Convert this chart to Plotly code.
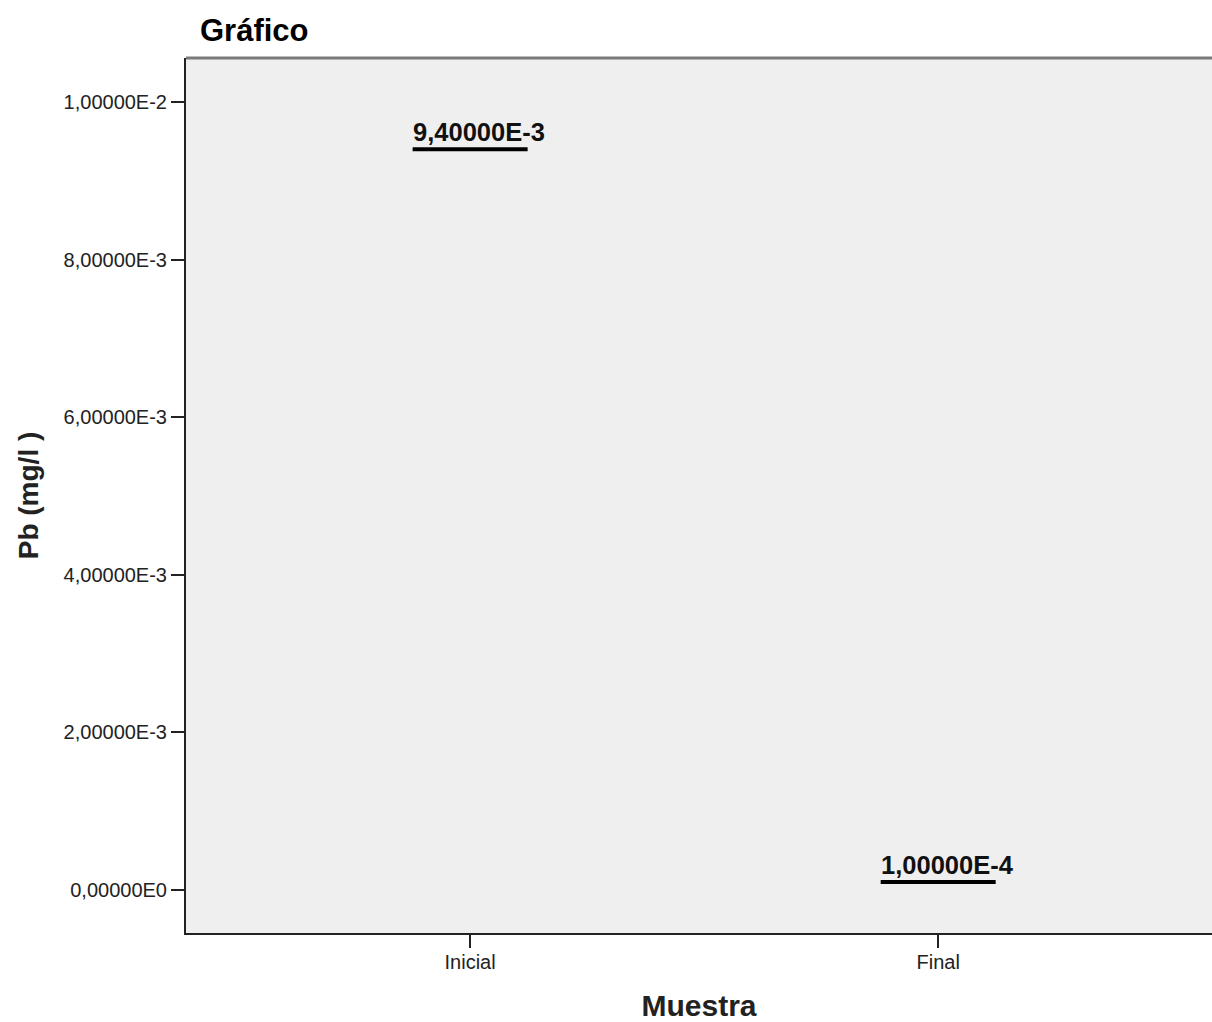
import plotly.graph_objects as go

# Pb concentration per sample (mg/l)
categories = ["Inicial", "Final"]
pb_values = [9.4e-3, 1.0e-4]
value_labels = ["9,40000E-3", "1,00000E-4"]

# y axis ticks
y_tickvals = [0.0, 0.002, 0.004, 0.006, 0.008, 0.010]
y_ticktext = ["0,00000E0", "2,00000E-3", "4,00000E-3", "6,00000E-3", "8,00000E-3", "1,00000E-2"]

W, H = 1212, 1022
ML, MT, MB, MR = 186, 58, 89, 0
SEG = 116  # drawn length of the value bar in px

x_pos = list(range(len(categories)))

fig = go.Figure()
fig.add_trace(go.Scatter(
    x=x_pos, y=pb_values, mode="markers",
    # line-ew symbols are drawn 1.4x the marker size
    marker=dict(symbol="line-ew", size=(SEG - 1) / 1.4, color="black",
                line=dict(width=4, color="black")),
    hoverinfo="skip", showlegend=False,
))

for xi, v, lab in zip(x_pos, pb_values, value_labels):
    fig.add_annotation(
        x=xi, y=v, xref="x", yref="y", text=f"<b>{lab}</b>",
        showarrow=False, xanchor="left", yanchor="bottom",
        xshift=-SEG / 2 - 1, yshift=1,
        font=dict(family="Liberation Sans, Arial, sans-serif", size=25.5, color="#111"),
    )

# grey frame along the top of the plot area
fig.add_shape(type="line", xref="paper", yref="paper", x0=0, x1=1, y0=1, y1=1,
              line=dict(color="#7a7a7a", width=3))

fig.update_layout(
    width=W, height=H,
    margin=dict(l=ML, r=MR, t=MT, b=MB, pad=0),
    paper_bgcolor="white", plot_bgcolor="#efefef",
    font=dict(family="Liberation Sans, Arial, sans-serif", color="#222"),
    title=dict(text="<b>Gráfico</b>", x=200 / W, xref="container", xanchor="left",
               y=1 - 19 / H, yref="container", yanchor="top",
               font=dict(size=31, color="black")),
    xaxis=dict(
        range=[-0.607, 1.585], tickvals=x_pos, ticktext=categories,
        showgrid=False, zeroline=False, showline=True, linecolor="#222", linewidth=2,
        ticks="outside", ticklen=13, tickwidth=2, tickcolor="#222",
        tickfont=dict(size=20, color="#222"), ticklabelstandoff=-3,
        title=dict(text="<b>Muestra</b>", font=dict(size=30, color="#222"), standoff=24),
    ),
    yaxis=dict(
        range=[-0.000546, 0.010558], tickvals=y_tickvals, ticktext=y_ticktext,
        showgrid=False, zeroline=False, showline=True, linecolor="#222", linewidth=2,
        ticks="outside", ticklen=13, tickwidth=2, tickcolor="#222",
        tickfont=dict(size=20, color="#222"),
        title=dict(text="<b>Pb (mg/l )</b>", font=dict(size=28, color="#222"), standoff=17),
    ),
)

fig.write_html("out.html")
